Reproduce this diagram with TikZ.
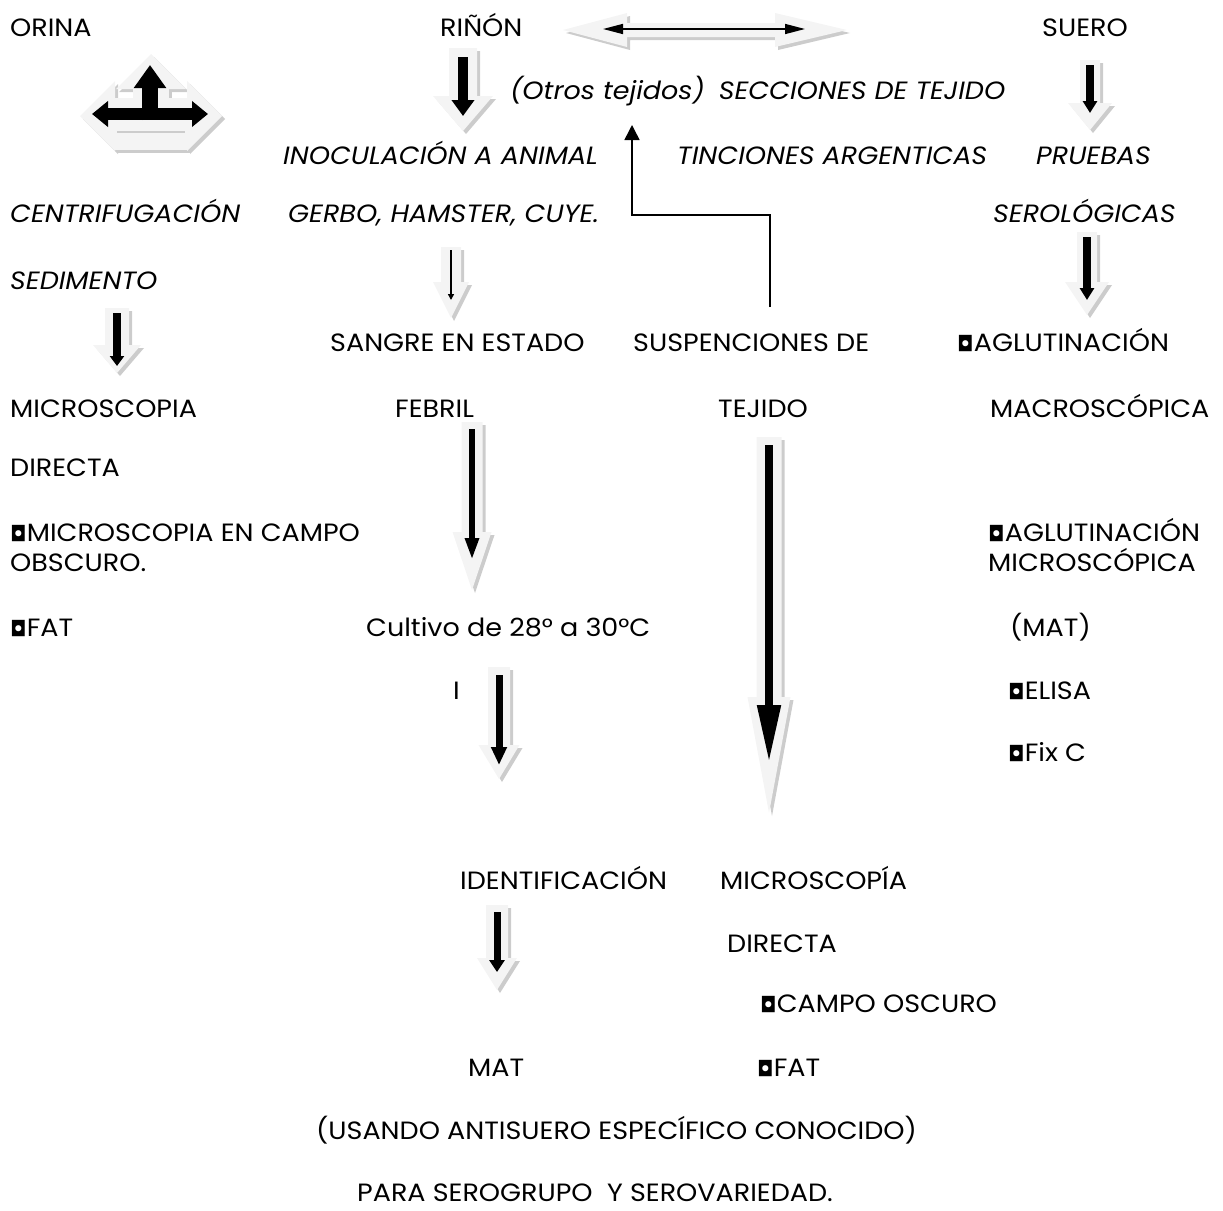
\documentclass[tikz,border=0pt]{standalone}
\usepackage{fontspec}
\setmainfont{Poppins}[FakeStretch=1.08]
\newfontfamily\symfont{DejaVu Sans}
\usetikzlibrary{arrows.meta,calc,positioning}

\newcommand{\sqBullet}{{\symfont\fontsize{21}{24}\selectfont ◘}}
% grey block arrow pointing down, with a black arrow inside
\newcommand{\blockDown}[9]{%
	\fill[greyShadow, shift={(3,3)}] (#1-#4,#2) -- (#1+#4,#2) -- (#1+#4,#6) -- (#1+#5,#6) -- (#1,#3) -- (#1-#5,#6) -- (#1-#4,#6) -- cycle;
	\fill[greyBody] (#1-#4,#2) -- (#1+#4,#2) -- (#1+#4,#6) -- (#1+#5,#6) -- (#1,#3) -- (#1-#5,#6) -- (#1-#4,#6) -- cycle;
	\draw[#7] (#1,#8) -- (#1,#9);
}

\begin{document}
\begin{tikzpicture}[x=1pt, y=-1pt,
		lbl/.style={anchor=base west, inner sep=0pt, font=\fontsize{25}{30}\selectfont},
		lblIt/.style={lbl, font=\fontsize{25}{30}\selectfont\itshape},
		greyBody/.style={fill=gray!9},
		greyShadow/.style={fill=gray!40},
		innerArrow/.style={black, line width=#1},
		returnArrow/.style={line width=1.5pt, -{Triangle[length=15pt,width=15pt]}}
	]
	\useasboundingbox (0,0) rectangle (1223,1210);

	% left column
	\node[lbl] (orina) at (10,36) {ORINA};
	\node[lblIt] (centrifugacion) at (10,222) {CENTRIFUGACIÓN};
	\node[lblIt] (sedimento) at (10,289) {SEDIMENTO};
	\node[lbl] (microscopia) at (10,417) {MICROSCOPIA};
	\node[lbl] (directa) at (10,476) {DIRECTA};
	\node[lbl] (campoObscuro) at (10,541) {\sqBullet MICROSCOPIA EN CAMPO};
	\node[lbl] (obscuro) at (10,571) {OBSCURO.};
	\node[lbl] (fat) at (10,636) {\sqBullet FAT};

	% middle columns
	\node[lbl] (rinon) at (440,36) {RIÑÓN};
	\node[lblIt] (secciones) at (510,99) {(Otros tejidos)\hspace{14pt}SECCIONES DE TEJIDO};
	\node[lblIt] (inoculacion) at (283,164) {INOCULACIÓN A ANIMAL};
	\node[lblIt] (tinciones) at (677,164) {TINCIONES ARGENTICAS};
	\node[lblIt] (gerbo) at (288,222) {GERBO, HAMSTER, CUYE.};
	\node[lbl] (sangre) at (330,351) {SANGRE EN ESTADO};
	\node[lbl] (suspenciones) at (633,351) {SUSPENCIONES DE};
	\node[lbl] (febril) at (395,417) {FEBRIL};
	\node[lbl] (tejido) at (718,417) {TEJIDO};
	\node[lbl] (cultivo) at (366,636) {Cultivo de 28° a 30°C};
	\node[lbl] (letraI) at (453,699) {I};
	\node[lbl] (identificacion) at (460,889) {IDENTIFICACIÓN};
	\node[lbl] (microscopiaDir) at (720,889) {MICROSCOPÍA};
	\node[lbl] (directaDos) at (727,952) {DIRECTA};
	\node[lbl] (campoOscuro) at (760,1012) {\sqBullet CAMPO OSCURO};
	\node[lbl] (mat) at (468,1076) {MAT};
	\node[lbl] (fatDos) at (757,1076) {\sqBullet FAT};
	\node[lbl] (usando) at (316,1139) {(USANDO ANTISUERO ESPECÍFICO CONOCIDO)};
	\node[lbl] (serogrupo) at (357,1201) {PARA SEROGRUPO\ \ Y SEROVARIEDAD.};

	% right column
	\node[lbl] (suero) at (1042,36) {SUERO};
	\node[lblIt] (pruebas) at (1036,164) {PRUEBAS};
	\node[lblIt] (serologicas) at (993,222) {SEROLÓGICAS};
	\node[lbl] (aglutMacro) at (957,351) {\sqBullet AGLUTINACIÓN};
	\node[lbl] (macroscopica) at (990,417) {MACROSCÓPICA};
	\node[lbl] (aglutMicro) at (988,541) {\sqBullet AGLUTINACIÓN};
	\node[lbl] (microscopica) at (988,571) {MICROSCÓPICA};
	\node[lbl] (matPar) at (1010,636) {(MAT)};
	\node[lbl] (elisa) at (1008,699) {\sqBullet ELISA};
	\node[lbl] (fixC) at (1008,761) {\sqBullet Fix C};

	% three way arrow under ORINA
	\begin{scope}[shift={(3,3)}]
		\fill[greyShadow] (80,116) -- (115,81) -- (115,151) -- cycle;
		\fill[greyShadow] (222,116) -- (187,81) -- (187,151) -- cycle;
		\fill[greyShadow] (151,54) -- (186,89) -- (116,89) -- cycle;
		\fill[greyShadow] (115,98) rectangle (187,150);
		\fill[greyShadow] (133,89) rectangle (169,134);
	\end{scope}
	\fill[greyBody] (80,116) -- (115,81) -- (115,151) -- cycle;
	\fill[greyBody] (222,116) -- (187,81) -- (187,151) -- cycle;
	\fill[greyBody] (151,54) -- (186,89) -- (116,89) -- cycle;
	\fill[greyBody] (115,98) rectangle (187,150);
	\fill[greyBody] (133,89) rectangle (169,134);
	\draw[gray!40, line width=1.5pt] (117,132) -- (185,132);
	\draw[innerArrow=12pt, {Triangle[length=16pt,width=25pt]}-{Triangle[length=16pt,width=25pt]}] (92,114) -- (208,114);
	\draw[innerArrow=16pt, -{Triangle[length=23pt,width=31pt]}] (150,120) -- (150,65);

	% double arrow next to RIÑÓN
	\fill[greyShadow, shift={(3,3)}] (563,30) -- (627,13) -- (627,23) -- (775,23) -- (775,13) -- (847,30) -- (775,47) -- (775,37) -- (627,37) -- (627,47) -- cycle;
	\fill[greyBody] (563,30) -- (627,13) -- (627,23) -- (775,23) -- (775,13) -- (847,30) -- (775,47) -- (775,37) -- (627,37) -- (627,47) -- cycle;
	\draw[innerArrow=1.5pt, {Triangle[length=20pt,width=10pt]}-{Triangle[length=20pt,width=10pt]}] (603,29) -- (805,29);

	% block arrows
	\blockDown{463}{48}{131}{14}{30}{96}{innerArrow=10pt, -{Triangle[length=16pt,width=22pt]}}{57}{116}
	\blockDown{451}{247}{318}{10}{18}{282}{innerArrow=1.5pt, -{Triangle[length=6pt,width=6pt]}}{250}{300}
	\blockDown{117}{308}{373}{12}{24}{345}{innerArrow=8pt, -{Triangle[length=10pt,width=14pt]}}{313}{366}
	\blockDown{472}{422}{590}{10.5}{19.5}{532}{innerArrow=6pt, -{Triangle[length=22pt,width=13pt]}}{429}{560}
	\blockDown{499}{667}{779}{11}{20.5}{745}{innerArrow=7pt, -{Triangle[length=18pt,width=15pt]}}{675}{765}
	\blockDown{769}{437}{813}{12.5}{21.5}{697}{innerArrow=8pt, -{Triangle[length=58pt,width=22pt]}}{445}{763}
	\blockDown{497}{905}{990}{11}{20}{958}{innerArrow=7pt, -{Triangle[length=12pt,width=15pt]}}{912}{972}
	\blockDown{1090}{60}{130}{10}{22}{103}{innerArrow=8pt, -{Triangle[length=12pt,width=14pt]}}{65}{113}
	\blockDown{1087}{232}{315}{10}{22}{282}{innerArrow=8pt, -{Triangle[length=12pt,width=14pt]}}{237}{300}

	% arrow from SUSPENCIONES DE back to the tissue sections
	\coordinate (retFrom) at (770,307);
	\coordinate (retTo) at (632,125);
	\draw[returnArrow] (retFrom) -- ++(0,-92) -| (retTo);
\end{tikzpicture}
\end{document}
